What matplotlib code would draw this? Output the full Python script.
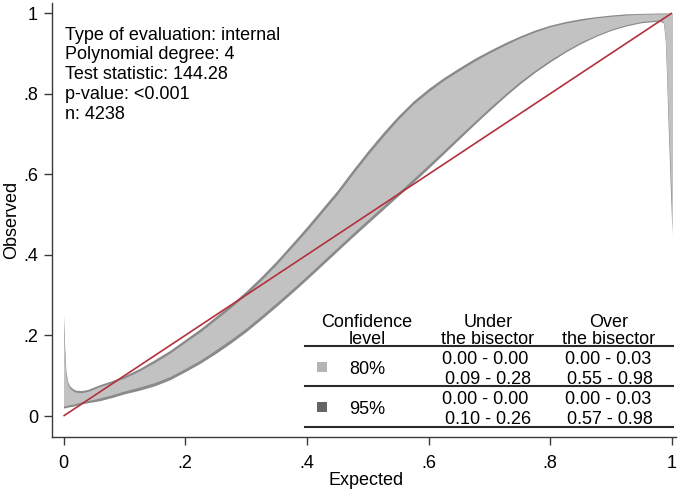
import matplotlib
matplotlib.use("Agg")
import matplotlib.pyplot as plt
from matplotlib.patches import Rectangle
from matplotlib.lines import Line2D

# ---------------- data ----------------
expected = [0.0, 0.002, 0.004, 0.007, 0.01, 0.015, 0.02, 0.03, 0.04, 0.06, 0.08,
            0.10, 0.125, 0.15, 0.175, 0.20, 0.225, 0.25, 0.275, 0.30, 0.325, 0.35,
            0.375, 0.40, 0.425, 0.45, 0.475, 0.50, 0.525, 0.55, 0.575, 0.60, 0.625,
            0.65, 0.675, 0.70, 0.725, 0.75, 0.775, 0.80, 0.825, 0.85, 0.875, 0.90,
            0.925, 0.95, 0.98, 0.986, 0.989, 0.991, 0.993, 0.996, 1.0]
upper95 = [0.25, 0.17, 0.11, 0.085, 0.075, 0.068, 0.064, 0.063, 0.066, 0.078, 0.088,
           0.100, 0.118, 0.140, 0.163, 0.190, 0.217, 0.247, 0.277, 0.310, 0.346, 0.385,
           0.427, 0.470, 0.515, 0.560, 0.610, 0.658, 0.703, 0.745, 0.782, 0.813, 0.840,
           0.864, 0.887, 0.907, 0.926, 0.943, 0.958, 0.970, 0.979, 0.986, 0.991, 0.995,
           0.998, 0.999, 1.0, 1.0, 1.0, 1.0, 1.0, 1.0, 1.0]
lower95 = [0.020, 0.020, 0.021, 0.022, 0.023, 0.024, 0.026, 0.030, 0.033, 0.038, 0.046,
           0.055, 0.064, 0.075, 0.090, 0.110, 0.131, 0.155, 0.181, 0.209, 0.240, 0.272,
           0.305, 0.339, 0.374, 0.409, 0.444, 0.478, 0.512, 0.546, 0.580, 0.615, 0.651,
           0.687, 0.723, 0.758, 0.792, 0.824, 0.853, 0.879, 0.903, 0.924, 0.942, 0.957,
           0.968, 0.976, 0.980, 0.975, 0.930, 0.850, 0.750, 0.620, 0.450]
upper80 = [0.22, 0.15, 0.10, 0.079, 0.070, 0.063, 0.059, 0.058, 0.061, 0.073, 0.083,
           0.094, 0.112, 0.133, 0.156, 0.183, 0.209, 0.239, 0.269, 0.301, 0.337, 0.376,
           0.418, 0.460, 0.505, 0.550, 0.600, 0.648, 0.693, 0.736, 0.774, 0.805, 0.833,
           0.857, 0.880, 0.901, 0.920, 0.938, 0.953, 0.966, 0.975, 0.982, 0.988, 0.992,
           0.995, 0.997, 0.998, 0.998, 0.998, 0.998, 0.998, 0.998, 0.998]
lower80 = [0.025, 0.025, 0.026, 0.027, 0.028, 0.029, 0.031, 0.035, 0.038, 0.045, 0.053,
           0.062, 0.072, 0.083, 0.098, 0.118, 0.139, 0.164, 0.190, 0.218, 0.249, 0.281,
           0.314, 0.348, 0.383, 0.418, 0.453, 0.487, 0.521, 0.555, 0.589, 0.624, 0.659,
           0.695, 0.730, 0.765, 0.798, 0.830, 0.858, 0.884, 0.907, 0.928, 0.945, 0.960,
           0.971, 0.979, 0.983, 0.978, 0.940, 0.870, 0.780, 0.660, 0.500]
bisector = [0.0, 1.0]

tick_values = [0, 0.2, 0.4, 0.6, 0.8, 1.0]
tick_labels = ["0", ".2", ".4", ".6", ".8", "1"]

info_lines = ["Type of evaluation: internal", "Polynomial degree: 4",
              "Test statistic: 144.28", "p-value: <0.001", "n: 4238"]

conf_levels = ["80%", "95%"]
under_bisector = [["0.00 - 0.00", "0.09 - 0.28"], ["0.00 - 0.00", "0.10 - 0.26"]]
over_bisector = [["0.00 - 0.03", "0.55 - 0.98"], ["0.00 - 0.03", "0.57 - 0.98"]]

# ---------------- style ----------------
W, H = 685, 490
FONT = "Liberation Sans"
FS = 13
plt.rcParams["font.family"] = [FONT, "DejaVu Sans"]

c95 = "#8a8a8a"
c80 = "#c2c2c2"
c95_key = "#646464"
c80_key = "#b4b4b4"
red = "#b3313d"
axis_col = "#3a3a3a"

fig = plt.figure(figsize=(W / 100, H / 100), dpi=100)

def fx(px):
    return px / W

def fy(py):
    return 1 - py / H

ax_l, ax_r, ax_t, ax_b = 52, 676, 3, 437
ax = fig.add_axes([fx(ax_l), fy(ax_b), (ax_r - ax_l) / W, (ax_b - ax_t) / H])

x0p, x1p = 63.5, 672.0
y0p, y1p = 416.0, 13.0
sx = x1p - x0p
sy = y0p - y1p
ax.set_xlim((ax_l - x0p) / sx, (ax_r - x0p) / sx)
ax.set_ylim((y0p - ax_b) / sy, (y0p - ax_t) / sy)

ax.fill_between(expected, lower95, upper95, color=c95, linewidth=0, zorder=1)
ax.fill_between(expected, lower80, upper80, color=c80, linewidth=0, zorder=2)
ax.plot(bisector, bisector, color=red, linewidth=1.2, zorder=3, solid_capstyle="butt")

for s in ["top", "right"]:
    ax.spines[s].set_visible(False)
for s in ["left", "bottom"]:
    ax.spines[s].set_color(axis_col)
    ax.spines[s].set_linewidth(1.0)

ax.set_xticks(tick_values)
ax.set_xticklabels(tick_labels)
ax.set_yticks(tick_values)
ax.set_yticklabels(tick_labels)
ax.tick_params(axis="both", direction="out", length=6, width=1.0, color=axis_col,
               labelsize=FS, labelcolor="black")
ax.tick_params(axis="x", pad=7)
ax.tick_params(axis="y", pad=4)

fig.text(fx(11.5), fy(220), "Observed", rotation=90, ha="center", va="center", fontsize=FS)
fig.text(fx(366), fy(485), "Expected", ha="center", va="baseline", fontsize=FS)

# info text
base = 39.5
for i, line in enumerate(info_lines):
    fig.text(fx(65), fy(base + i * 19.9), line, ha="left", va="baseline", fontsize=FS)

# table
col1, col2, col3 = 367, 488, 609
fig.text(fx(col1), fy(327), "Confidence", ha="center", va="baseline", fontsize=FS)
fig.text(fx(col1), fy(343.5), "level", ha="center", va="baseline", fontsize=FS)
fig.text(fx(col2), fy(327), "Under", ha="center", va="baseline", fontsize=FS)
fig.text(fx(col2), fy(343.5), "the bisector", ha="center", va="baseline", fontsize=FS)
fig.text(fx(col3), fy(327), "Over", ha="center", va="baseline", fontsize=FS)
fig.text(fx(col3), fy(343.5), "the bisector", ha="center", va="baseline", fontsize=FS)

line_ys = [346, 386, 427]
for ly in line_ys:
    fig.add_artist(Line2D([fx(305), fx(673)], [fy(ly), fy(ly)], color="#2a2a2a",
                          linewidth=1.5, transform=fig.transFigure))

key_cols = [c80_key, c95_key]
row_base = [364, 404]
for i, lvl in enumerate(conf_levels):
    b = row_base[i]
    fig.text(fx(col1), fy(b + 10), lvl, ha="center", va="baseline", fontsize=FS)
    fig.add_artist(Rectangle((fx(316.7), fy(b + 8)), 10 / W, 10 / H, facecolor=key_cols[i],
                             edgecolor="none", transform=fig.transFigure))
    fig.text(fx(col2 - 3), fy(b), under_bisector[i][0], ha="center", va="baseline", fontsize=FS)
    fig.text(fx(col2), fy(b + 19.5), under_bisector[i][1], ha="center", va="baseline", fontsize=FS)
    fig.text(fx(col3 - 1), fy(b), over_bisector[i][0], ha="center", va="baseline", fontsize=FS)
    fig.text(fx(col3 + 1), fy(b + 19.5), over_bisector[i][1], ha="center", va="baseline", fontsize=FS)

fig.savefig("out.png", dpi=100)
